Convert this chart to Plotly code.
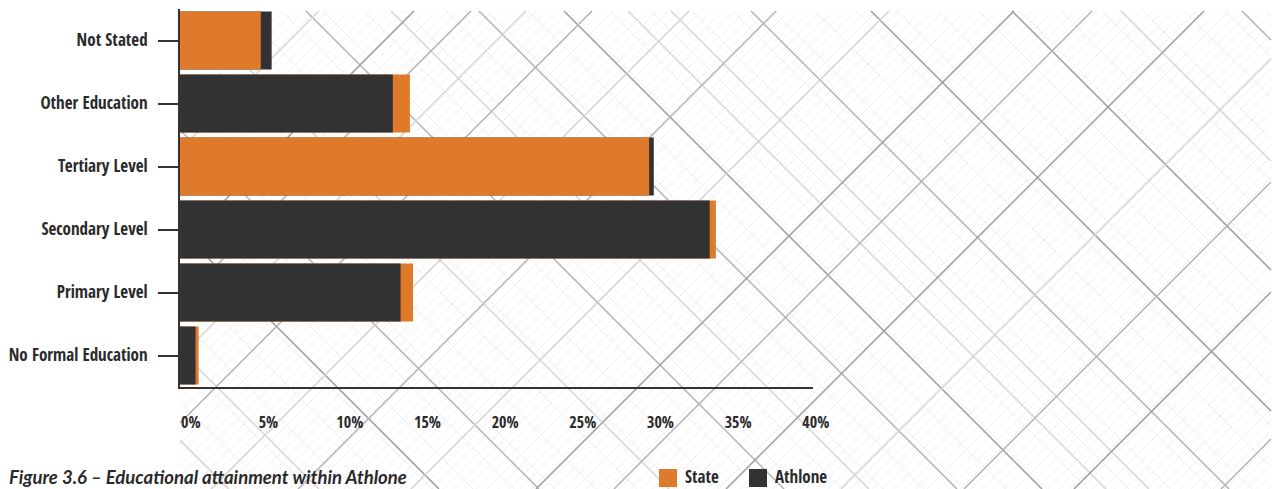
import plotly.graph_objects as go

# ---- data -------------------------------------------------------------
categories = ["Not Stated", "Other Education", "Tertiary Level",
              "Secondary Level", "Primary Level", "No Formal Education"]
state = [5.2, 14.8, 30.2, 34.5, 15.0, 1.2]
athlone = [5.9, 13.7, 30.5, 34.1, 14.2, 1.0]
tick_vals = [0, 5, 10, 15, 20, 25, 30, 35, 40]
tick_text = ["0%", "5%", "10%", "15%", "20%", "25%", "30%", "35%", "40%"]
series_names = ["State", "Athlone"]

# ---- style ------------------------------------------------------------
ORANGE = "#E07A2B"
DARK = "#323232"
TEXT = "#2a2a2a"
COND = "Open Sans Condensed, Roboto Condensed, sans-serif"

W_PX, H_PX = 1280, 489
M_L, M_R, M_T, M_B = 180, 467, 9, 102
PLOT_W = W_PX - M_L - M_R
PLOT_H = H_PX - M_T - M_B


def px_x(p):
    return (p - M_L) / PLOT_W


def px_y(p):
    return (H_PX - M_B - p) / PLOT_H


# Overlapping bars: the longer bar of each pair sits behind the shorter one.
back_vals, back_cols, front_vals, front_cols = [], [], [], []
for s, a in zip(state, athlone):
    if s >= a:
        back_vals.append(s); back_cols.append(ORANGE)
        front_vals.append(a); front_cols.append(DARK)
    else:
        back_vals.append(a); back_cols.append(DARK)
        front_vals.append(s); front_cols.append(ORANGE)

fig = go.Figure()
fig.add_trace(go.Bar(y=categories, x=back_vals, orientation="h",
                     marker=dict(color=back_cols, line_width=0),
                     showlegend=False, hovertemplate="%{y}: %{x}%<extra></extra>"))
fig.add_trace(go.Bar(y=categories, x=front_vals, orientation="h",
                     marker=dict(color=front_cols, line_width=0),
                     showlegend=False, hovertemplate="%{y}: %{x}%<extra></extra>"))

# ---- decorative diagonal line background ------------------------------
BX0, BX1, BY0, BY1 = 180, 1271, 11, 489


def diag_path(offsets, down):
    parts = []
    for k in offsets:
        if down:   # y = x + k
            xa, xb = max(BX0, BY0 - k), min(BX1, BY1 - k)
            if xa >= xb:
                continue
            ya, yb = xa + k, xb + k
        else:      # y = k - x
            xa, xb = max(BX0, k - BY1), min(BX1, k - BY0)
            if xa >= xb:
                continue
            ya, yb = k - xa, k - xb
        parts.append(f"M{px_x(xa):.5f},{px_y(ya):.5f} L{px_x(xb):.5f},{px_y(yb):.5f}")
    return " ".join(parts)


shapes = []
faint_up = list(range(195, 1760, 11))
faint_down = list(range(-1255, 310, 41))
shapes.append(dict(type="path", path=diag_path(faint_up, False), xref="paper", yref="paper",
                   line=dict(color="#f1f1f1", width=1), layer="below"))
shapes.append(dict(type="path", path=diag_path(faint_down, True), xref="paper", yref="paper",
                   line=dict(color="#efefef", width=1), layer="below"))

down_lines = {
    "#9c9c9c": [-1001, -860, -553, 50],
    "#b4b4b4": [-1231, -740, -468, -295, -50],
    "#d6d6d6": [-1110, -660, -617, -380, -180, 170, 260],
}
up_lines = {
    "#9c9c9c": [425, 1025, 1215, 1563],
    "#b4b4b4": [482, 603, 787, 1103, 1453, 1710],
    "#d6d6d6": [330, 537, 700, 900, 1330],
}
for col, offs in down_lines.items():
    shapes.append(dict(type="path", path=diag_path(offs, True), xref="paper", yref="paper",
                       line=dict(color=col, width=1.5), layer="below"))
for col, offs in up_lines.items():
    shapes.append(dict(type="path", path=diag_path(offs, False), xref="paper", yref="paper",
                       line=dict(color=col, width=1.5), layer="below"))

# ---- legend (drawn by hand) -------------------------------------------
annotations = []
legend_items = [(series_names[0], ORANGE, 659), (series_names[1], DARK, 749)]
for name, col, x0 in legend_items:
    shapes.append(dict(type="rect", xref="paper", yref="paper",
                       x0=px_x(x0), x1=px_x(x0 + 18), y0=px_y(487), y1=px_y(469),
                       fillcolor=col, line_width=0, layer="above"))
    annotations.append(dict(text=name, xref="paper", yref="paper",
                            x=px_x(x0 + 24), y=px_y(476.5), xanchor="left", yanchor="middle",
                            showarrow=False, font=dict(family=COND, size=17, color=TEXT, weight="bold")))

annotations.append(dict(text="Figure 3.6 – Educational attainment within Athlone",
                        xref="paper", yref="paper", x=px_x(7), y=px_y(476.5),
                        xanchor="left", yanchor="middle", showarrow=False,
                        font=dict(family="Lato, sans-serif", size=18.5, color=TEXT,
                                  weight="bold", style="italic")))

fig.update_layout(
    width=W_PX, height=H_PX,
    margin=dict(l=M_L, r=M_R, t=M_T, b=M_B, pad=0),
    barmode="overlay", bargap=0.08,
    paper_bgcolor="white", plot_bgcolor="rgba(0,0,0,0)",
    shapes=shapes, annotations=annotations,
    xaxis=dict(range=[0, 40.75], tickvals=tick_vals, ticktext=tick_text, automargin=False,
               ticklabelposition="outside right", ticks="", showgrid=False, zeroline=False,
               showline=True, linecolor=DARK, linewidth=2, ticklabelstandoff=20,
               tickfont=dict(family=COND, size=16, color=TEXT, weight="bold"), fixedrange=True),
    yaxis=dict(autorange="reversed", showgrid=False, zeroline=False, automargin=False,
               showline=True, linecolor=DARK, linewidth=2,
               ticks="outside", ticklen=20, tickwidth=2, tickcolor=DARK, ticklabelstandoff=7,
               tickfont=dict(family=COND, size=17, color=TEXT, weight="bold"), fixedrange=True),
)

fig.write_html("out.html")
